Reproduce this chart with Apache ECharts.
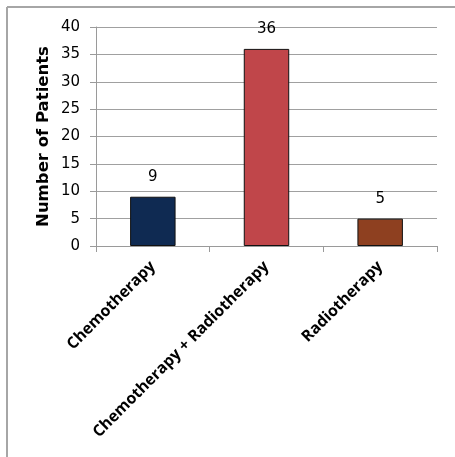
<!DOCTYPE html>
<html>
<head>
<meta charset="utf-8">
<script src="https://cdn.jsdelivr.net/npm/echarts@6/dist/echarts.min.js"></script>
<style>
  html, body { margin: 0; padding: 0; background: #fff; }
  #chart { width: 455px; height: 457px; }
</style>
</head>
<body>
<div id="chart"></div>
<script>
// Treatment groups and patient counts
const categories = ['Chemotherapy', 'Chemotherapy + Radiotherapy', 'Radiotherapy'];
const patients = [9, 36, 5];
const barColors = ['#0f2a52', '#c0464a', '#8e4020'];
const yTicks = { min: 0, max: 40, interval: 5 };

const chart = echarts.init(document.getElementById('chart'), null, { renderer: 'canvas' });

chart.setOption({
  animation: false,
  backgroundColor: '#fff',
  grid: { left: 96, right: 18, top: 27, bottom: 211, containLabel: false },
  graphic: [
    // frame lines along the top and left edges
    { type: 'line', shape: { x1: 7, y1: 7, x2: 455, y2: 7 }, style: { stroke: '#a6a6a6', lineWidth: 2 } },
    { type: 'line', shape: { x1: 7, y1: 7, x2: 7, y2: 457 }, style: { stroke: '#a6a6a6', lineWidth: 2 } }
  ],
  xAxis: {
    type: 'category',
    data: categories,
    axisLine: { lineStyle: { color: '#9a9a9a', width: 1 } },
    axisTick: { show: true, length: 6, lineStyle: { color: '#9a9a9a' }, alignWithLabel: false },
    axisLabel: {
      rotate: 45,
      interval: 0,
      margin: 18,
      color: '#000',
      fontFamily: 'Open Sans',
      fontWeight: 'bold',
      fontSize: 15.8
    }
  },
  yAxis: {
    type: 'value',
    min: yTicks.min,
    max: yTicks.max,
    interval: yTicks.interval,
    name: 'Number of Patients',
    nameLocation: 'middle',
    nameGap: 44,
    nameMoveOverlap: false,
    nameTextStyle: {
      fontFamily: 'DejaVu Sans',
      fontWeight: 'bold',
      fontSize: 16.5,
      color: '#000'
    },
    axisLine: { show: true, lineStyle: { color: '#9a9a9a', width: 1 } },
    axisTick: { show: true, length: 6, lineStyle: { color: '#9a9a9a' } },
    axisLabel: {
      margin: 16,
      color: '#000',
      fontFamily: 'DejaVu Sans',
      fontSize: 15
    },
    splitLine: { lineStyle: { color: '#a0a0a0', width: 1 } }
  },
  series: [{
    type: 'bar',
    barWidth: '40%',
    data: patients.map((v, i) => ({
      value: v,
      itemStyle: { color: barColors[i], borderColor: '#111', borderWidth: 1 }
    })),
    label: {
      show: true,
      position: 'top',
      distance: 12,
      color: '#000',
      fontFamily: 'DejaVu Sans',
      fontSize: 15
    }
  }]
});
</script>
</body>
</html>
